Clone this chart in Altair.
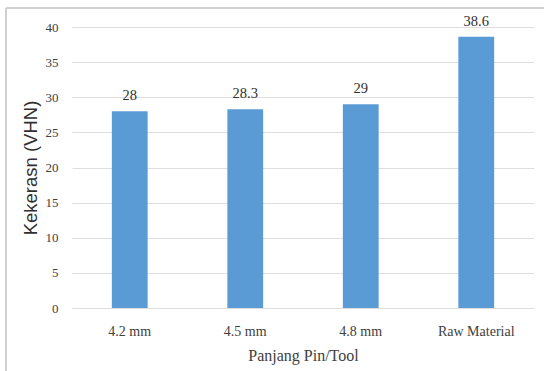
import altair as alt
import pandas as pd

categories = ["4.2 mm", "4.5 mm", "4.8 mm", "Raw Material"]
values = [28, 28.3, 29, 38.6]
labels = ["28", "28.3", "29", "38.6"]
y_ticks = [0, 5, 10, 15, 20, 25, 30, 35, 40]

df = pd.DataFrame({"cat": categories, "val": values, "lab": labels})

x_enc = alt.X("cat:N", sort=categories,
              scale=alt.Scale(paddingInner=0.69, paddingOuter=0.345),
              axis=alt.Axis(title="Panjang Pin/Tool", labelAngle=0, ticks=False,
                            domain=False, labelFont="Liberation Serif",
                            labelFontSize=14, labelColor="#404040", labelPadding=16,
                            titleFont="Liberation Serif", titleFontSize=16,
                            titleFontWeight="normal", titleColor="#404040",
                            titlePadding=9))
y_enc = alt.Y("val:Q", scale=alt.Scale(domain=[0, 40], nice=False),
              axis=alt.Axis(title="Kekerasn (VHN)", values=y_ticks, ticks=False,
                            domain=False, grid=True, gridColor="#dedede",
                            labelOverlap=False, labelFlush=False,
                            labelFont="Liberation Serif", labelFontSize=13,
                            labelColor="#404040", labelPadding=14,
                            titleFont="Liberation Sans", titleFontSize=18.5,
                            titleFontWeight="normal", titleColor="#303030",
                            titlePadding=5))

base = alt.Chart(df).encode(x=x_enc, y=y_enc)
bars = base.mark_bar(color="#5B9BD5")
text = base.mark_text(dy=-15, font="Liberation Serif", fontSize=14.5,
                      color="#303030").encode(text="lab:N")

frame_top = alt.Chart(df).mark_rule(color="#d0d0d0", strokeWidth=1.5).encode(
    x=alt.value(-66), x2=alt.value(472), y=alt.value(-19))
frame_left = alt.Chart(df).mark_rule(color="#d0d0d0", strokeWidth=1.5).encode(
    x=alt.value(-66), y=alt.value(-19), y2=alt.value(344))

chart = alt.layer(bars, text, frame_top, frame_left).properties(
    width=462, height=281,
    autosize=alt.AutoSizeParams(type="none"),
    padding={"left": 72, "top": 27, "right": 10, "bottom": 63},
    background="white",
).configure_view(stroke=None)

chart.save("out.html", embed_options={"renderer": "svg", "actions": False})
